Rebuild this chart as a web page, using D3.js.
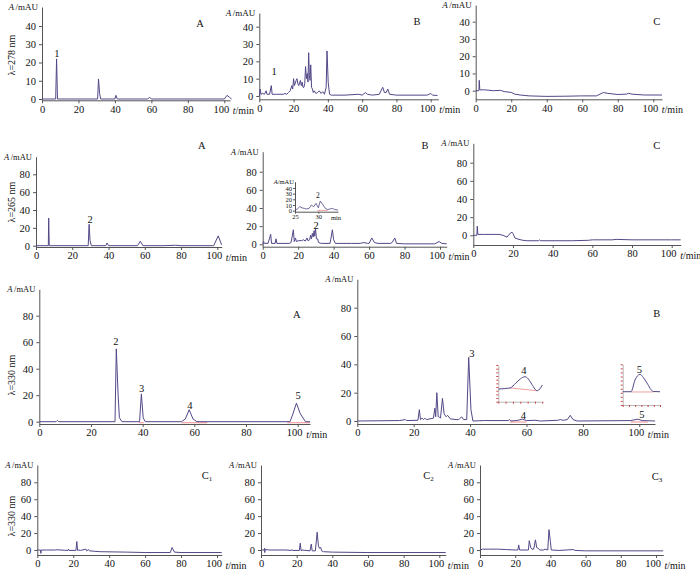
<!DOCTYPE html>
<html><head><meta charset="utf-8">
<script src="https://cdn.jsdelivr.net/npm/d3@7/dist/d3.min.js"></script>
<style>
body{margin:0;background:#fff}
svg{display:block}
text{font-family:"Liberation Serif","DejaVu Serif",serif;fill:#111}
</style>
</head><body>
<svg id="c" width="700" height="569"></svg>
<script>
// ---------------- DATA (time t/min, absorbance A/mAU) ----------------
const xTickValues = [0, 20, 40, 60, 80, 100];
const yTicks40 = [0, 10, 20, 30, 40];
const yTicks80 = [0, 20, 40, 60, 80];
const insetXTicks = [25, 30];
const insetYTicks = [0, 10, 20, 30, 40];

const trace278A = [[0,0],[7.5,0],[8,22],[8.5,0],[30.5,0],[31,11],[31.6,3],[32.2,0],[40,0],[40.5,2],[41.3,0],[58,0],[59,1],[60,0],[100,0],[101.5,2],[103,0.8],[104,0]];
const trace278B = [[0,0],[0.5,4],[1,1],[2,1.5],[3,1],[4,3],[4.5,1],[6,1],[7,6],[7.5,1],[10,1],[14,1],[15,1.5],[16,1],[17,2],[18,3],[19,6],[19.5,4],[20,10],[20.5,6],[21.5,9],[22,10],[22.5,7],[23,6],[24,9],[24.5,6],[25,8],[25.5,5],[26,5],[26.5,7],[27,17],[27.5,10],[28,13],[28.4,8],[28.8,25],[29.2,12],[29.6,9],[30,18],[30.5,5],[31,4],[31.5,2],[32,3],[33,1.5],[34,2],[35,3],[36,1.5],[37,2.5],[38,1],[39,5],[39.5,26],[40.2,8],[41,1],[42,0.5],[50,0.5],[58,1],[60,0.5],[62,2],[63,1],[66,0.5],[70,1],[72,5],[73,2],[74,2],[75,4],[76,1],[80,0.5],[98,0.5],[100,1.5],[101,0.5],[104,0.3]];
const trace278C = [[0,0],[1.8,0],[2,6],[2.3,0.5],[5,0.5],[10,0],[14,0.2],[16,-0.5],[20,-1],[22,-2],[25,-2.5],[30,-3],[40,-3.3],[50,-3.2],[60,-3],[68,-3],[70,-2],[72,-1],[74,-1.5],[80,-2.2],[85,-2],[86,-1.5],[88,-2],[95,-2.5],[104.9,-2.5]];

const trace265A = [[0,0],[6.8,0],[7,31],[7.3,0],[28.8,0],[29.3,24],[29.8,6],[30.5,0],[38.5,0],[39.2,3],[40,0],[56,0],[57.5,5],[59,0],[70,0],[77,0.5],[80,0],[98,0],[100.5,11],[102,3],[102.4,1]];
const trace265B = [[0,0],[0.5,3],[1,1],[3,1],[4.5,11],[5,1],[7,1],[7.5,6],[8,1],[15,1],[16,2],[17.3,16],[17.8,3],[18.5,7],[19,3],[20,4],[22,4],[23,5],[24,3.5],[25,7],[25.5,4],[26.5,5],[27,10],[27.5,6],[28,12],[28.5,8],[29,15],[29.3,9],[29.8,17],[30.3,6],[31,6],[31.5,2],[33,1],[38,1],[39.3,16],[40,5],[41,1],[50,1],[55,1],[57,2],[59,1],[60,1],[61.5,7],[63,2],[65,1],[72,1],[73,2],[74.5,7],[75.5,1],[80,0.5],[97,0.5],[99.5,3],[101,1],[103.8,0.5]];
const trace265BInset = [[25,1],[25.5,3],[26,7],[26.5,5],[27,4],[27.5,3],[28,4],[28.5,10],[29,7],[29.5,13],[30,5],[30.4,17],[31,10],[31.5,4],[32,2],[32.5,3],[33,4],[33.5,2],[34.2,1]];
const trace265C = [[0,0],[1.8,0],[2,10],[2.3,1],[5,1],[10,1],[13,1],[15,0],[17,-2],[18,1],[19.5,3.5],[20,2],[21,-3],[23,-4.5],[25,-5.5],[27,-6],[33,-6],[33.5,-5],[34,-6],[50,-6],[58,-5.5],[60,-5],[70,-5],[72,-4.5],[80,-5],[100,-5],[104.5,-5]];

const trace330A = [[0,0],[6.5,0],[7,1],[7.5,0],[29.3,0],[29.8,55],[30.5,20],[31,3],[32,0],[38.8,0],[39.5,21],[40.2,3],[41,0],[55,0],[56.5,2],[58,9],[59.5,2],[61,0],[97,0],[98,5],[99.5,14],[101,6],[103,0],[104.8,0]];
const trace330B = [[0,0],[15,0.3],[17,1],[17.5,0.3],[21.5,0.5],[22,8],[22.4,1],[23,2],[23.5,1],[24,2],[24.5,1],[27,2],[27.5,9],[27.8,3],[28.2,20],[28.7,3],[29,3],[29.5,2],[30.2,16],[30.8,5],[31.5,3],[32,4],[33,1.5],[35,1],[36,1],[37,3],[37.7,1],[38.8,1],[39.5,45],[40.3,8],[41,0],[45,0.3],[53.5,0.3],[54,1],[54.5,0],[57,0.5],[58.5,1.3],[60,0.3],[63,0.5],[65,0],[71,0.5],[72,1],[73,0.5],[74.5,1],[75.5,4],[76.5,1],[78,0],[97,0.3],[99.5,1.3],[101,0.3],[105.6,0]];
const trace330BInset4 = [[0,1.73],[1.6,1.87],[2.4,2.55],[3.0,3.1],[3.64,3.4],[4.1,3.1],[4.46,2.55],[5.32,1.5],[6,2.27]];
const trace330BInset5 = [[0,1.63],[1.34,1.63],[1.98,3.07],[2.78,3.77],[3.3,3.4],[3.9,2.7],[4.92,1.66],[6,1.63]];
const baseline330A = [[38.5,40.5],[55,65],[96,104.8]];
const baseline330B = [[54,60],[97,103]];
const baseline4Inset = [[1.6,1.87],[5.32,1.5]];
const baseline5Inset = [[1.34,1.6],[4.92,1.6]];

const traceC1 = [[0,0],[1.8,0],[2,-4],[2.2,0],[5,0],[10,0],[11,0.3],[15,-0.3],[17,-0.5],[17.3,1],[17.6,-0.5],[21.5,-0.5],[22,10],[22.4,-0.5],[23,0],[24,-0.5],[27,1],[27.5,-1],[28.5,0.5],[29,-1],[35,-2],[50,-2.5],[60,-3],[74,-3],[75,3],[76.3,-2.5],[80,-3],[102.6,-3]];
const traceC2 = [[0,0],[1.8,0],[2,2],[2.1,-3],[2.3,0.5],[5,0],[14,0],[17,-0.5],[17.3,0.5],[17.6,-0.5],[21.5,-0.5],[22,8],[22.5,-1],[23,0],[27.5,-1],[28.2,7],[28.7,-1],[30.5,-1],[31.5,21],[32.2,5],[32.8,2],[33.5,3],[34,-1],[35,-2],[40,-2.5],[60,-3],[103.6,-3]];
const traceC3 = [[0,0],[1.5,1],[5,1],[10,1],[15,0.5],[20,0],[21.5,0],[22,6],[22.5,0],[27.5,0],[28,11],[28.8,3],[29.5,1],[30.5,1],[31.5,12],[32.2,3],[33,2],[34,0],[36,0],[37,1],[38.5,0],[39.2,24],[40,10],[40.5,0],[45,-0.5],[53,0.5],[54,-0.5],[60,-1],[104.1,-1]];

// peak labels: [text, t, A]
const labels278A = [["1", 8.2, 25.2]];
const labels278B = [["1", 8.6, 14.4]];
const labels265A = [["2", 29.8, 29.9]];
const labels265B = [["2", 30.1, 21]];
const labels265BInset = [["2", 29.9, 26.4]];
const labels330A = [["2", 29.6, 60.4], ["3", 39.6, 24.7], ["4", 58.3, 12.6], ["5", 100.2, 19.4]];
const labels330B = [["3", 40.6, 47.8], ["4", 58.9, 4.2], ["5", 100.9, 4.9]];

const waveLabels = ["λ=278 nm", "λ=265 nm", "λ=330 nm", "λ=330 nm"];

// ---------------- LAYOUT ----------------
const LINE = "#524888";
const AXIS = "#555";
const PINK = "#f2a0a0";
const svg = d3.select("#c");

function panel(cfg) {
  const xk = (cfg.x100 - cfg.x0) / 100;
  const yk = (cfg.y0 - cfg.yT) / cfg.tv;
  const x = d3.scaleLinear().domain([0, (cfg.xEndPx - cfg.x0) / xk]).range([cfg.x0, cfg.xEndPx]);
  const y = d3.scaleLinear().domain([(cfg.y0 - cfg.yAxisPx) / yk, (cfg.y0 - cfg.yTopPx) / yk]).range([cfg.yAxisPx, cfg.yTopPx]);
  const g = svg.append("g");
  const ax = g.append("g").attr("transform", `translate(0,${cfg.yAxisPx})`)
    .call(d3.axisBottom(x).tickValues(xTickValues).tickSize(3).tickSizeOuter(0).tickPadding(2));
  const ay = g.append("g").attr("transform", `translate(${cfg.x0},0)`)
    .call(d3.axisLeft(y).tickValues(cfg.ticks).tickSize(3).tickSizeOuter(0).tickPadding(3));
  [ax, ay].forEach(a => {
    a.selectAll("path,line").attr("stroke", AXIS);
    a.selectAll("text").attr("font-size", 10.5).attr("font-family", '"Liberation Serif",serif').attr("fill", "#111");
  });
  ax.selectAll(".tick text").filter(d => d === 100).attr("dx", -3.5);
  // axis titles
  const yt = g.append("text").attr("x", cfg.x0 - 4).attr("y", cfg.yTopPx + 3).attr("text-anchor", "end")
    .attr("font-size", cfg.yfs || 8.5);
  yt.append("tspan").attr("font-style", "italic").text("A");
  yt.append("tspan").attr("dx", 1.5).text("/mAU");
  const xt = g.append("text").attr("x", x(100) + 8.5).attr("y", cfg.yAxisPx + 13.5).attr("font-size", 10);
  xt.append("tspan").attr("font-style", "italic").text("t");
  xt.append("tspan").text("/min");
  // panel label
  const pl = g.append("text").attr("x", cfg.lx).attr("y", cfg.ly + 3.5).attr("text-anchor", "middle").attr("font-size", 10.5).text(cfg.label);
  if (cfg.sub) pl.append("tspan").attr("font-size", 7).attr("dy", 2).text(cfg.sub);
  // baselines
  (cfg.baselines || []).forEach(b => {
    g.append("line").attr("x1", x(b[0])).attr("x2", x(b[1])).attr("y1", y(0) + 1).attr("y2", y(0) + 1)
      .attr("stroke", PINK).attr("stroke-width", 1.2);
  });
  // trace
  const line = d3.line().x(d => x(d[0])).y(d => y(d[1]));
  g.append("path").datum(cfg.data).attr("d", line).attr("fill", "none").attr("stroke", LINE).attr("stroke-width", 1);
  (cfg.labels || []).forEach(l => {
    g.append("text").attr("x", x(l[1])).attr("y", y(l[2]) + 3.5).attr("text-anchor", "middle").attr("font-size", 10.5).text(l[0]);
  });
  return {x, y, g};
}

// Row 1 (278 nm)
panel({x0:42, x100:224.3, xEndPx:230, y0:99, yT:26, tv:40, yAxisPx:100.3, yTopPx:7, ticks:yTicks40, yfs:9, data:trace278A, labels:labels278A, label:"A", lx:200, ly:23});
panel({x0:259.3, x100:430.7, xEndPx:438.3, y0:96, yT:26.7, tv:40, yAxisPx:99.3, yTopPx:13, ticks:yTicks40, yfs:9, data:trace278B, labels:labels278B, label:"B", lx:417, ly:21});
panel({x0:475.7, x100:653.3, xEndPx:662, y0:90.7, yT:21.7, tv:40, yAxisPx:99.3, yTopPx:5, ticks:yTicks40, yfs:9, data:trace278C, label:"C", lx:656.7, ly:21});
// Row 2 (265 nm)
panel({x0:36, x100:217.3, xEndPx:221.7, y0:245.7, yT:174.3, tv:80, yAxisPx:247, yTopPx:156.7, ticks:yTicks80, data:trace265A, labels:labels265A, label:"A", lx:201.7, ly:145});
panel({x0:262.7, x100:440, xEndPx:446.7, y0:244.3, yT:171.7, tv:80, yAxisPx:246.7, yTopPx:151.7, ticks:yTicks80, data:trace265B, labels:labels265B, label:"B", lx:425, ly:145});
panel({x0:473.3, x100:671.7, xEndPx:680.7, y0:235.3, yT:162.7, tv:80, yAxisPx:245, yTopPx:143.3, ticks:yTicks80, data:trace265C, label:"C", lx:656.7, ly:145.7});
// Row 3 (330 nm)
panel({x0:39.3, x100:297.7, xEndPx:310, y0:421.7, yT:315.7, tv:80, yAxisPx:424, yTopPx:289.3, ticks:yTicks80, data:trace330A, labels:labels330A, baselines:baseline330A, label:"A", lx:296.7, ly:314.3});
panel({x0:357.3, x100:639.3, xEndPx:655, y0:421, yT:307.7, tv:80, yAxisPx:424, yTopPx:279.3, ticks:yTicks80, data:trace330B, labels:labels330B, baselines:baseline330B, label:"B", lx:656.7, ly:313.3});
// Row 4 (330 nm, C1-C3)
panel({x0:37.3, x100:217, xEndPx:221.7, y0:550, yT:482.3, tv:80, yAxisPx:555, yTopPx:465, ticks:yTicks80, data:traceC1, label:"C", sub:"1", lx:207, ly:475.7});
panel({x0:261, x100:439.3, xEndPx:445.7, y0:550, yT:482.3, tv:80, yAxisPx:555, yTopPx:465, ticks:yTicks80, data:traceC2, label:"C", sub:"2", lx:428.5, ly:475.7});
panel({x0:480, x100:656, xEndPx:663.3, y0:550, yT:482.3, tv:80, yAxisPx:555, yTopPx:465, ticks:yTicks80, data:traceC3, label:"C", sub:"3", lx:657, ly:476.7});

// wavelength labels (rotated)
[55, 202, 375, 516].forEach((cy, i) => {
  svg.append("text").attr("transform", `translate(15,${cy}) rotate(-90)`).attr("text-anchor", "middle")
    .attr("font-size", 10).text(waveLabels[i]);
});

// Inset in 265 nm B
(function(){
  const x = d3.scaleLinear().domain([25, 34.2]).range([295, 338]);
  const y = d3.scaleLinear().domain([-1.8, 51]).range([211.7, 181.7]);
  const g = svg.append("g");
  const ax = g.append("g").attr("transform", "translate(0,211.7)").call(d3.axisBottom(x).tickValues(insetXTicks).tickSize(2).tickSizeOuter(0).tickPadding(1));
  const ay = g.append("g").attr("transform", "translate(295,0)").call(d3.axisLeft(y).tickValues(insetYTicks).tickSize(2).tickSizeOuter(0).tickPadding(1));
  [ax, ay].forEach(a => { a.selectAll("path,line").attr("stroke", AXIS); a.selectAll("text").attr("font-size", 6.5).attr("font-family", '"Liberation Serif",serif').attr("fill", "#111"); });
  const t = g.append("text").attr("x", 294).attr("y", 184).attr("text-anchor", "end").attr("font-size", 6.5);
  t.append("tspan").attr("font-style", "italic").text("A"); t.append("tspan").text("/mAU");
  g.append("text").attr("x", 331).attr("y", 219.5).attr("font-size", 6.5).text("min");
  g.append("line").attr("x1", x(29.8)).attr("x2", x(32)).attr("y1", y(0.5)).attr("y2", y(0.5)).attr("stroke", PINK);
  g.append("path").datum(trace265BInset).attr("d", d3.line().x(d => x(d[0])).y(d => y(d[1]))).attr("fill", "none").attr("stroke", LINE).attr("stroke-width", 0.8);
  labels265BInset.forEach(l => g.append("text").attr("x", x(l[1])).attr("y", y(l[2]) + 2.5).attr("text-anchor", "middle").attr("font-size", 7.5).text(l[0]));
})();

// Zoom insets in 330 nm B
function zoomInset(box, data, base, lab) {
  const x = d3.scaleLinear().domain([0, 6]).range([box[0], box[1]]);
  const y = d3.scaleLinear().domain([0, 5]).range([box[3], box[2]]);
  const g = svg.append("g");
  const ax = g.append("g").attr("transform", `translate(0,${box[3]})`).call(d3.axisBottom(x).ticks(6).tickSize(2).tickFormat("").tickSizeOuter(0));
  const ay = g.append("g").attr("transform", `translate(${box[0]},0)`).call(d3.axisLeft(y).ticks(8).tickSize(2).tickFormat("").tickSizeOuter(0));
  [ax, ay].forEach(a => { a.selectAll("path").attr("stroke", "#888").attr("stroke-width", 0.6); a.selectAll("line").attr("stroke", "#c44"); });
  g.append("path").datum(base).attr("d", d3.line().x(d => x(d[0])).y(d => y(d[1]))).attr("fill", "none").attr("stroke", PINK).attr("stroke-width", 1);
  g.append("path").datum(data).attr("d", d3.line().curve(d3.curveMonotoneX).x(d => x(d[0])).y(d => y(d[1]))).attr("fill", "none").attr("stroke", LINE).attr("stroke-width", 1);
  g.append("text").attr("x", x(lab[1])).attr("y", y(lab[2]) + 3.5).attr("text-anchor", "middle").attr("font-size", 10.5).text(lab[0]);
}
zoomInset([498.3, 542.3, 365, 401.7], trace330BInset4, baseline4Inset, ["4", 3.5, 4.3]);
zoomInset([622.7, 660, 364.3, 405], trace330BInset5, baseline5Inset, ["5", 2.7, 4.4]);
</script>
</body></html>
